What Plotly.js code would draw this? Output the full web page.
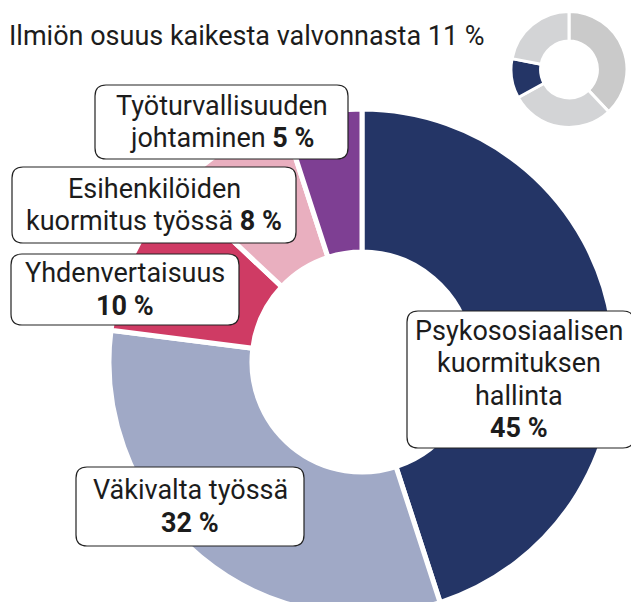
<!DOCTYPE html>
<html>
<head>
<meta charset="utf-8">
<script src="https://cdn.plot.ly/plotly-3.0.1.min.js"></script>
<style>
html,body{margin:0;padding:0;overflow:hidden;background:#fff;}
#chart{width:631px;height:630px;}
</style>
</head>
<body>
<div id="chart"></div>
<script>
// ---- data ----
const categories = ["Psykososiaalisen kuormituksen hallinta", "Väkivalta työssä", "Yhdenvertaisuus", "Esihenkilöiden kuormitus työssä", "Työturvallisuuden johtaminen"];
const shares = [45, 32, 10, 8, 5];
const labelLines = [
  ["Psykososiaalisen", "kuormituksen", "hallinta", ""],
  ["Väkivalta työssä", ""],
  ["Yhdenvertaisuus", ""],
  ["Esihenkilöiden", "kuormitus työssä"],
  ["Työturvallisuuden", "johtaminen"]
];
const subtitle = "Ilmiön osuus kaikesta valvonnasta 11 %";
const overallParts = ["Muu 1", "Muu 2", "Ilmiö", "Muu 3"];
const overallShares = [38, 29, 11, 22];

// ---- styles ----
const W = 631, H = 630;
const colors = ["#243566", "#a0a9c6", "#cf3b64", "#e9afbf", "#7e3f93"];
const smallColors = ["#cacaca", "#d3d4d6", "#243566", "#d3d4d6"];
const fontFam = "Roboto, 'Noto Sans', sans-serif";
const fontSize = 27;
const lineGap = 32.5;
const px = x => x / W;
const py = y => (H - y) / H;

// label box positions (pixels from top-left)
const boxes = [
  {x0: 407, y0: 311, x1: 634, y1: 448, cx: 519},
  {x0: 76, y0: 467, x1: 304, y1: 546, cx: 190},
  {x0: 11, y0: 254, x1: 239, y1: 325, cx: 125},
  {x0: 12, y0: 167, x1: 296, y1: 243, cx: 154},
  {x0: 95, y0: 85, x1: 348, y1: 159, cx: 222}
];

function roundRect(b, r) {
  const X0 = px(b.x0), X1 = px(b.x1), Y0 = py(b.y0), Y1 = py(b.y1);
  const rx = r / W, ry = r / H;
  return `M ${X0 + rx},${Y0} L ${X1 - rx},${Y0} Q ${X1},${Y0} ${X1},${Y0 - ry} ` +
         `L ${X1},${Y1 + ry} Q ${X1},${Y1} ${X1 - rx},${Y1} ` +
         `L ${X0 + rx},${Y1} Q ${X0},${Y1} ${X0},${Y1 + ry} ` +
         `L ${X0},${Y0 - ry} Q ${X0},${Y0} ${X0 + rx},${Y0} Z`;
}

const shapes = boxes.map(b => ({
  type: "path", xref: "paper", yref: "paper", path: roundRect(b, 11),
  fillcolor: "#ffffff", line: {color: "#222222", width: 1.2}, layer: "above"
}));

const annotations = [];
boxes.forEach((b, i) => {
  const lines = labelLines[i].slice();
  const pct = "<b>" + shares[i] + " %</b>";
  if (lines[lines.length - 1] === "") lines[lines.length - 1] = pct;
  else lines[lines.length - 1] = lines[lines.length - 1] + " " + pct;
  const mid = (b.y0 + b.y1) / 2;
  const n = lines.length;
  lines.forEach((t, k) => {
    annotations.push({
      xref: "paper", yref: "paper",
      x: px(b.cx), y: py(mid + (k - (n - 1) / 2) * lineGap),
      xanchor: "center", yanchor: "middle", showarrow: false, align: "center",
      text: t, font: {family: fontFam, size: fontSize, color: "#1c1c1c"}
    });
  });
});

annotations.push({
  xref: "paper", yref: "paper", x: px(7), y: py(36), xanchor: "left", yanchor: "middle",
  showarrow: false, text: subtitle, font: {family: fontFam, size: fontSize, color: "#1c1c1c"}
});

const traces = [
  {
    type: "pie", labels: categories, values: shares, sort: false, direction: "clockwise",
    rotation: 0, hole: 0.435, textinfo: "none", hoverinfo: "skip",
    marker: {colors: colors, line: {color: "#ffffff", width: 5}},
    domain: {x: [px(109), px(615)], y: [15 / H, 521 / H]}, showlegend: false
  },
  {
    type: "pie", labels: overallParts, values: overallShares, sort: false, direction: "clockwise",
    rotation: 0, hole: 0.49, textinfo: "none", hoverinfo: "skip",
    marker: {colors: smallColors, line: {color: "#ffffff", width: 3}},
    domain: {x: [px(511), px(627)], y: [py(128), py(11)]}, showlegend: false
  }
];

Plotly.newPlot("chart", traces, {
  width: W, height: H, margin: {l: 0, r: 0, t: 0, b: 0},
  paper_bgcolor: "#ffffff", plot_bgcolor: "#ffffff",
  shapes: shapes, annotations: annotations, showlegend: false
}, {staticPlot: true, displayModeBar: false});
</script>
</body>
</html>
